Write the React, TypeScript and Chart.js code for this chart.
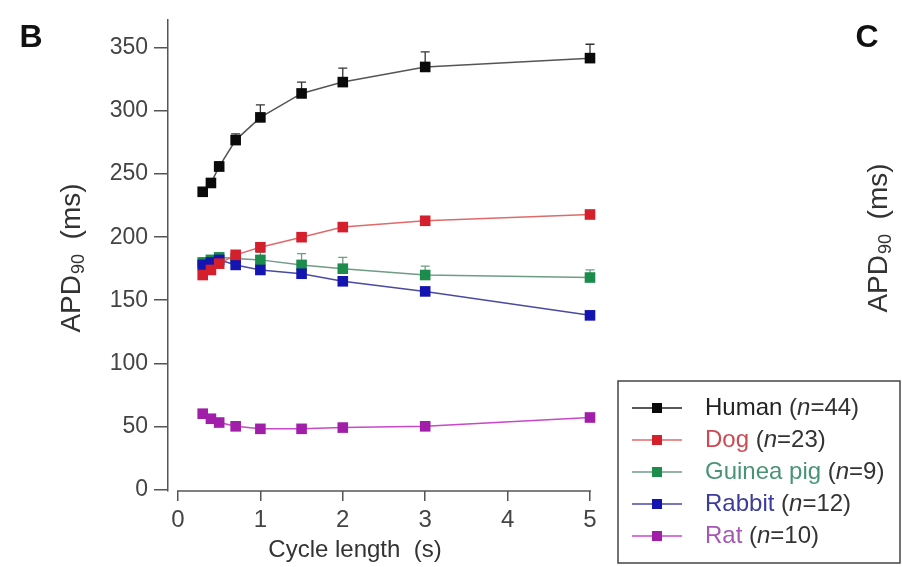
import React, { useEffect, useRef } from "react";
import { Chart, registerables } from "chart.js";

Chart.register(...registerables);

const xValues = [0.3, 0.4, 0.5, 0.7, 1, 1.5, 2, 3, 5];
const humanAPD = [236, 243, 256, 277, 295, 314, 323, 335, 342];
const humanErr = [3, 3, 4, 5, 10, 9, 11, 12, 11];
const dogAPD = [170, 174, 179, 186, 192, 200, 208, 213, 218];
const dogErr = [2, 2, 2, 2, 3, 3, 3, 3, 3];
const guineaAPD = [180, 182, 184, 183, 182, 178, 175, 170, 168];
const guineaErr = [3, 3, 3, 4, 6, 9, 9, 7, 6];
const rabbitAPD = [178, 180, 182, 178, 174, 171, 165, 157, 138];
const rabbitErr = [2, 2, 2, 2, 3, 3, 3, 3, 3];
const ratAPD = [60, 56, 53, 50, 48, 48, 49, 50, 57];
const ratErr = [2, 2, 2, 2, 2, 2, 2, 2, 2];

const speciesNames = ["Human", "Dog", "Guinea pig", "Rabbit", "Rat"];
const speciesN = [44, 23, 9, 12, 10];
const drawOrder = [0, 1, 3, 2, 4];
const markerColors = ["#0a0a0a", "#d41f2c", "#1c8c4c", "#1414b0", "#a01ea8"];
const lineColors = ["#555555", "#e06a6a", "#6f9c84", "#4a4aa0", "#c848c8"];
const textColors = ["#222222", "#cc4a52", "#4a9476", "#3c3c9c", "#a458b4"];

const xTicks = [0, 1, 2, 3, 4, 5];
const yTicks = [0, 50, 100, 150, 200, 250, 300, 350];

const FONT = "'Liberation Sans', Arial, sans-serif";

const seriesValues = [humanAPD, dogAPD, guineaAPD, rabbitAPD, ratAPD];
const seriesErrors = [humanErr, dogErr, guineaErr, rabbitErr, ratErr];

function drawAPDTitle(ctx: CanvasRenderingContext2D, cx: number, cy: number) {
  ctx.save();
  ctx.translate(cx, cy);
  ctx.rotate(-Math.PI / 2);
  ctx.fillStyle = "#333";
  ctx.textBaseline = "middle";
  ctx.textAlign = "left";
  const big = `28px ${FONT}`;
  const small = `18px ${FONT}`;
  ctx.font = big;
  const w1 = ctx.measureText("APD").width;
  const w3 = ctx.measureText("  (ms)").width;
  ctx.font = small;
  const w2 = ctx.measureText("90").width;
  let x = -(w1 + w2 + w3) / 2;
  ctx.font = big;
  ctx.fillText("APD", x, 0);
  x += w1;
  ctx.font = small;
  ctx.fillText("90", x + 1, 7);
  x += w2;
  ctx.font = big;
  ctx.fillText("  (ms)", x, 0);
  ctx.restore();
}

const decorPlugin = {
  id: "decor",
  beforeDatasetsDraw(chart: any) {
    const ctx = chart.ctx as CanvasRenderingContext2D;
    const xs = chart.scales.x;
    const ys = chart.scales.y;
    ctx.save();
    ctx.strokeStyle = "#555";
    ctx.lineWidth = 1.5;
    ctx.beginPath();
    ctx.moveTo(xs.getPixelForValue(xTicks[0]) - 1, chart.chartArea.bottom);
    ctx.lineTo(xs.getPixelForValue(xTicks[xTicks.length - 1]) + 1, chart.chartArea.bottom);
    ctx.stroke();
    seriesValues.forEach((vals, si) => {
      ctx.strokeStyle = si === 0 ? "#333" : lineColors[si];
      ctx.lineWidth = 1.3;
      vals.forEach((v, i) => {
        const px = xs.getPixelForValue(xValues[i]);
        const py0 = ys.getPixelForValue(v);
        const py1 = ys.getPixelForValue(v + seriesErrors[si][i]);
        ctx.beginPath();
        ctx.moveTo(px, py0);
        ctx.lineTo(px, py1);
        ctx.moveTo(px - 4.5, py1);
        ctx.lineTo(px + 4.5, py1);
        ctx.stroke();
      });
    });
    ctx.restore();
  },
  afterDraw(chart: any) {
    const ctx = chart.ctx as CanvasRenderingContext2D;
    ctx.save();
    ctx.fillStyle = "#111";
    ctx.font = `bold 32px ${FONT}`;
    ctx.textAlign = "center";
    ctx.textBaseline = "middle";
    ctx.fillText("B", 31, 38);
    ctx.fillText("C", 867, 38);
    drawAPDTitle(ctx, 72, 258);
    drawAPDTitle(ctx, 879, 238);
    ctx.fillStyle = "#333";
    ctx.font = `24px ${FONT}`;
    ctx.textAlign = "center";
    ctx.textBaseline = "middle";
    ctx.fillText("Cycle length  (s)", 355, 550);
    ctx.strokeStyle = "#444";
    ctx.lineWidth = 1.5;
    ctx.strokeRect(618, 381, 282, 182);
    speciesNames.forEach((name, i) => {
      const y = 408 + i * 32;
      ctx.strokeStyle = lineColors[i] === "#555555" ? "#222" : lineColors[i];
      ctx.lineWidth = 1.5;
      ctx.beginPath();
      ctx.moveTo(632, y);
      ctx.lineTo(682, y);
      ctx.stroke();
      ctx.fillStyle = markerColors[i];
      ctx.fillRect(657 - 5, y - 5, 10, 10);
      let x = 705;
      ctx.textAlign = "left";
      ctx.textBaseline = "middle";
      ctx.font = `24px ${FONT}`;
      ctx.fillStyle = textColors[i];
      ctx.fillText(name, x, y);
      x += ctx.measureText(name + " ").width;
      ctx.fillStyle = "#333";
      ctx.fillText("(", x, y);
      x += ctx.measureText("(").width;
      ctx.font = `italic 24px ${FONT}`;
      ctx.fillText("n", x, y);
      x += ctx.measureText("n").width;
      ctx.font = `24px ${FONT}`;
      ctx.fillText(`=${speciesN[i]})`, x, y);
    });
    ctx.restore();
  },
};

export default function App() {
  const ref = useRef<HTMLCanvasElement | null>(null);
  useEffect(() => {
    if (!ref.current) return;
    const datasets = speciesNames.map((name, si) => ({
      label: name,
      data: xValues.map((x, i) => ({ x, y: seriesValues[si][i] })),
      order: drawOrder[si],
      showLine: true,
      borderColor: lineColors[si],
      borderWidth: 1.5,
      pointStyle: "rect",
      pointRadius: 7.5,
      pointBorderWidth: 0,
      pointBackgroundColor: markerColors[si],
      pointBorderColor: markerColors[si],
      clip: false,
    }));
    const chart = new Chart(ref.current, {
      type: "scatter",
      data: { datasets },
      plugins: [decorPlugin],
      options: {
        animation: false,
        responsive: false,
        devicePixelRatio: 1,
        layout: { padding: { top: 15, right: 312, left: 0, bottom: 0 } },
        plugins: { legend: { display: false }, tooltip: { enabled: false } },
        scales: {
          x: {
            type: "linear",
            min: -0.121,
            max: 5,
            afterFit: (s: any) => {
              s.height = 76;
            },
            afterBuildTicks: (s: any) => {
              s.ticks = xTicks.map((v) => ({ value: v }));
            },
            grid: {
              display: true,
              drawOnChartArea: false,
              drawTicks: true,
              tickLength: 10,
              color: "#555",
              lineWidth: 1.5,
            },
            border: { display: false },
            ticks: {
              font: { family: FONT, size: 24 },
              color: "#444",
              padding: 5,
              maxRotation: 0,
            },
          },
          y: {
            type: "linear",
            min: -1.3,
            max: 372.4,
            afterFit: (s: any) => {
              s.width = 168;
            },
            afterBuildTicks: (s: any) => {
              s.ticks = yTicks.map((v) => ({ value: v }));
            },
            grid: {
              display: true,
              drawOnChartArea: false,
              drawTicks: true,
              tickLength: 14,
              color: "#555",
              lineWidth: 1.5,
            },
            border: { display: true, color: "#555", width: 1.5 },
            ticks: {
              font: { family: FONT, size: 23 },
              color: "#444",
              padding: 6,
            },
          },
        },
      },
    } as any);
    return () => chart.destroy();
  }, []);
  return (
    <div style={{ position: "fixed", left: 0, top: 0, width: 902, height: 567, background: "#fff" }}>
      <canvas ref={ref} width={902} height={567} style={{ width: 902, height: 567, display: "block" }} />
    </div>
  );
}
